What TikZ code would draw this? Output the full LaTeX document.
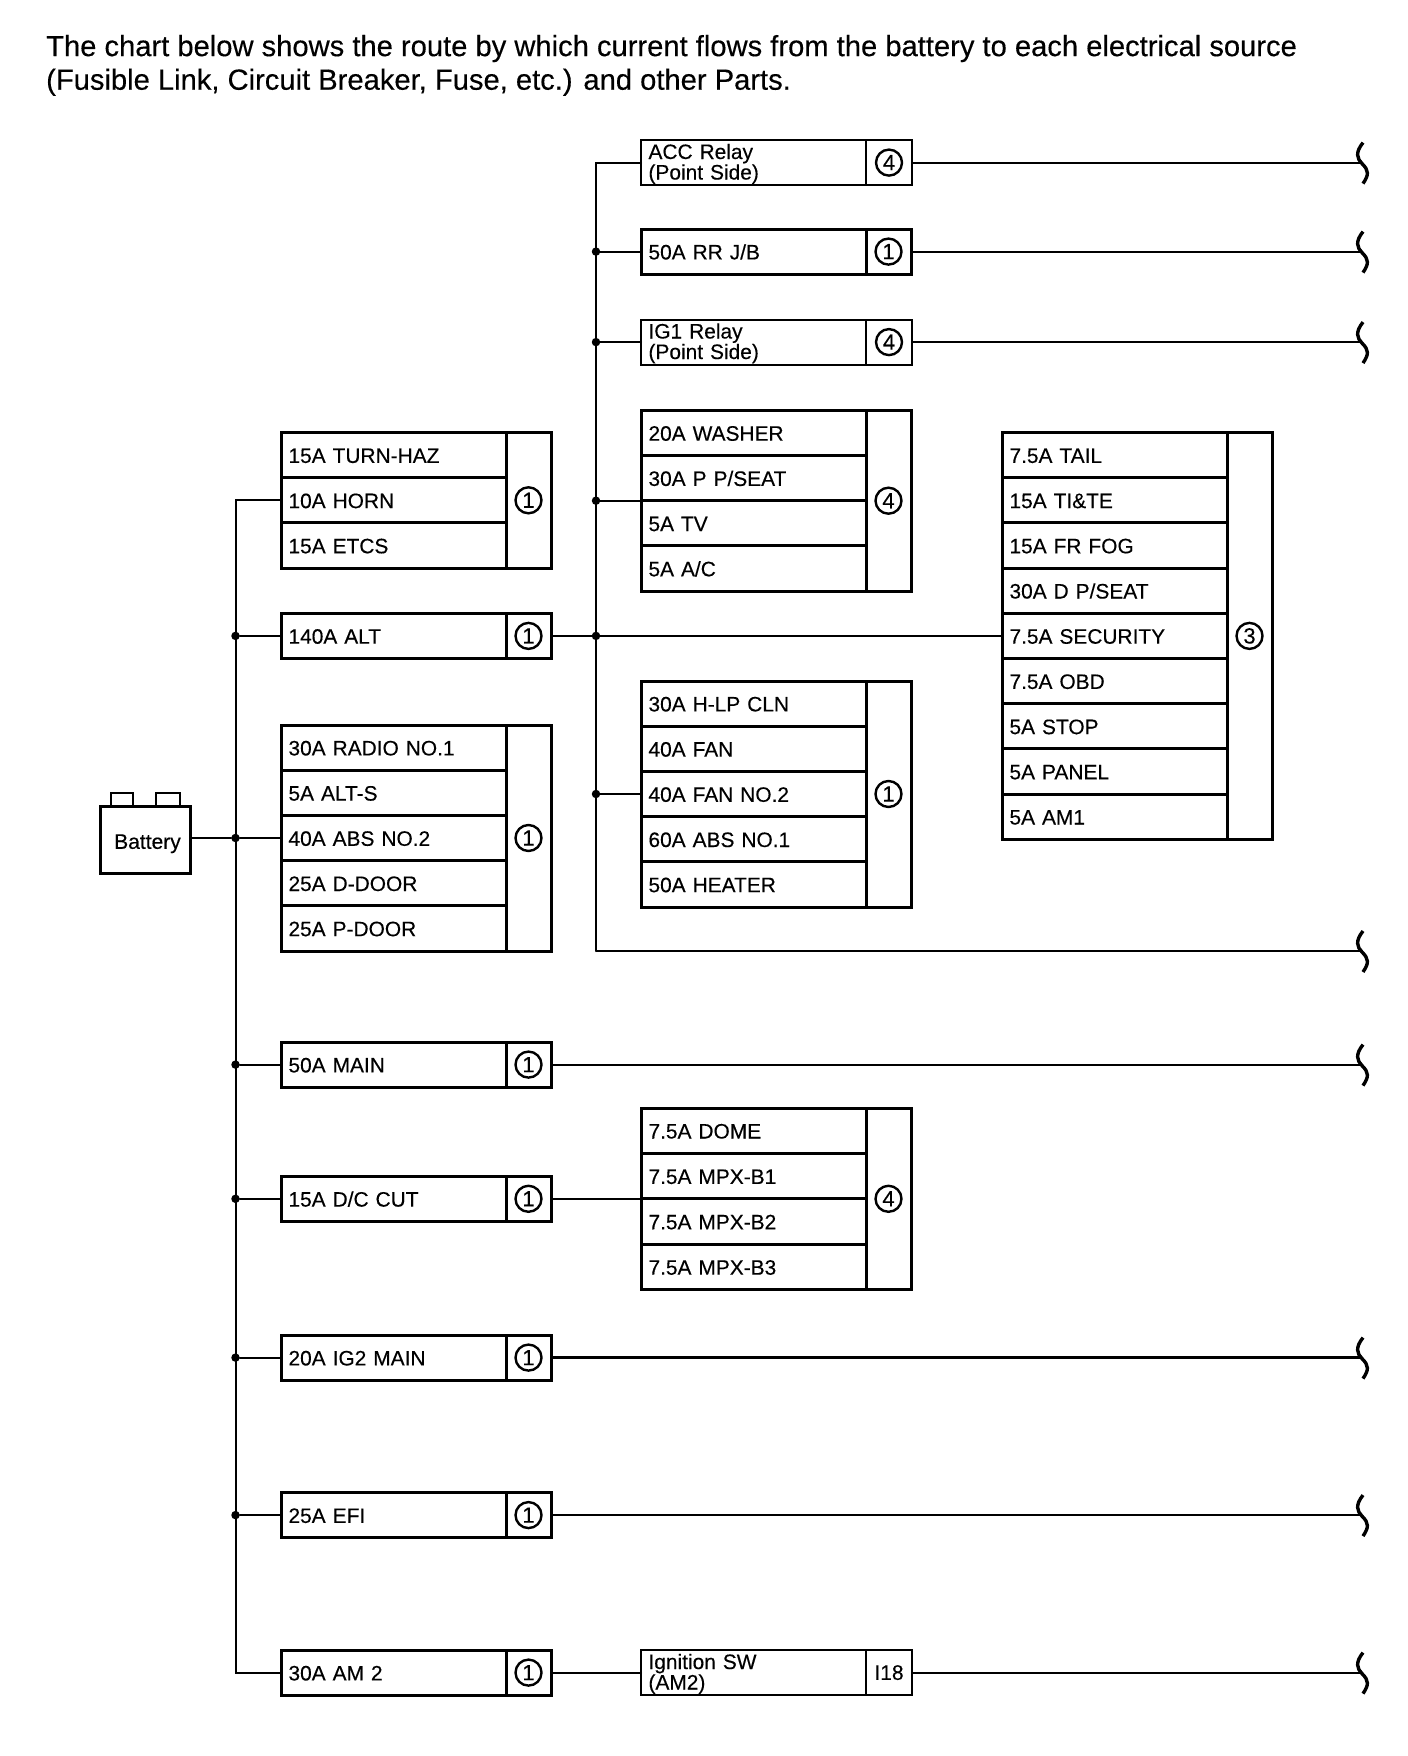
\documentclass[tikz,border=0pt]{standalone}
\usepackage{fontspec}
\setmainfont[FakeBold=0.3]{Liberation Sans}
\newcommand\twoline[2]{\raisebox{0pt}[36pt][2.2pt]{\vbox{\baselineskip=20.5pt\lineskiplimit=-30pt\hbox{#1}\hbox{#2}}}}
\tikzset{
  wire/.style={line width=2pt,line cap=round},
  heavywire/.style={line width=2.8pt},
  basecell/.style={draw,line width=3pt,rectangle,anchor=north west,outer sep=0pt,yshift=1pt,minimum width=225pt,minimum height=45.2pt,
     text width=210pt,inner xsep=7.5pt,inner ysep=0pt,align=left,font=\fontsize{20.9}{20}\selectfont},
  cell/.style={basecell,text height=19pt,text depth=3.4pt},
  thin cell/.style={basecell,line width=2pt},
  side/.style={draw,line width=3pt,rectangle,anchor=north west,outer sep=0pt,yshift=1pt,minimum width=45pt,inner sep=0pt},
  thin side/.style={side,line width=2pt,minimum width=46pt},
  ref/.style={draw,circle,line width=2.4pt,minimum size=26pt,inner sep=0pt,font=\fontsize{22}{22}\selectfont},
  jn/.style={circle,fill=black,inner sep=0pt,minimum size=8.5pt},
  cut/.pic={\draw[line width=3.4pt] (2,-20) .. controls (-6,-10) and (-4,-4) .. (1,1) .. controls (8,8) and (8,12) .. (2,21);}
}
\begin{document}
\begin{tikzpicture}[x=1pt,y=-1pt]
\useasboundingbox (0,0) rectangle (1408,1756);
\fill[white] (0,0) rectangle (1408,1756);
\node[anchor=north west,inner sep=0pt,align=left,font=\fontsize{29.15}{33.6}\selectfont] (title) at (46,34.8)
 {The chart below shows the route by which current flows from the battery to each electrical source\\(Fusible Link, Circuit Breaker, Fuse, etc.) and other Parts.};

% battery
\node[draw,line width=3pt,rectangle,outer sep=0pt,minimum width=90pt,minimum height=67pt,anchor=north west,inner sep=0pt,text height=21pt,text depth=2.4pt,font=\fontsize{21}{21}\selectfont] (bat) at (100,806) {\hspace*{5pt}Battery};
\draw[line width=2.6pt] (111,805) |- (133,793) -- (133,805);
\draw[line width=2.6pt] (156,805) |- (180,793) -- (180,805);

% left column
\node[cell] (a1) at (281,433.5) {15A TURN-HAZ};
\node[cell] (a2) at (281,478.7) {10A HORN};
\node[cell] (a3) at (281,523.9) {15A ETCS};
\node[side,minimum height=135.6pt] (as) at (506,433.5) {};
\node[ref] (ac) at (as.center) {1};

\node[cell] (alt) at (281,614.3) {140A ALT};
\node[side,minimum height=45.2pt] (alts) at (506,614.3) {};
\node[ref] (altc) at (alts.center) {1};

\node[cell] (b1) at (281,726) {30A RADIO NO.1};
\node[cell] (b2) at (281,771.2) {5A ALT-S};
\node[cell] (b3) at (281,816.4) {40A ABS NO.2};
\node[cell] (b4) at (281,861.6) {25A D-DOOR};
\node[cell] (b5) at (281,906.8) {25A P-DOOR};
\node[side,minimum height=226pt] (bs) at (506,726) {};
\node[ref] (bc) at (bs.center) {1};

\node[cell] (main) at (281,1043) {50A MAIN};
\node[side,minimum height=45.2pt] (mains) at (506,1043) {};
\node[ref] (mainc) at (mains.center) {1};

\node[cell] (dc) at (281,1177.2) {15A D/C CUT};
\node[side,minimum height=45.2pt] (dcs) at (506,1177.2) {};
\node[ref] (dcc) at (dcs.center) {1};

\node[cell] (ig) at (281,1336) {20A IG2 MAIN};
\node[side,minimum height=45.2pt] (igs) at (506,1336) {};
\node[ref] (igc) at (igs.center) {1};

\node[cell] (efi) at (281,1493.5) {25A EFI};
\node[side,minimum height=45.2pt] (efis) at (506,1493.5) {};
\node[ref] (efic) at (efis.center) {1};

\node[cell] (am) at (281,1651) {30A AM 2};
\node[side,minimum height=45.2pt] (ams) at (506,1651) {};
\node[ref] (amc) at (ams.center) {1};

% middle column
\node[thin cell] (acc) at (641,141) {\twoline{ACC Relay}{(Point Side)}};
\node[thin side,minimum height=45.2pt] (accs) at (866,141) {};
\node[ref] (accc) at (accs.center) {4};

\node[cell] (rr) at (641,230) {50A RR J/B};
\node[side,minimum height=45.2pt] (rrs) at (866,230) {};
\node[ref] (rrc) at (rrs.center) {1};

\node[thin cell] (ig1) at (641,320.5) {\twoline{IG1 Relay}{(Point Side)}};
\node[thin side,minimum height=45.2pt] (ig1s) at (866,320.5) {};
\node[ref] (ig1c) at (ig1s.center) {4};

\node[cell] (c1) at (641,411.3) {20A WASHER};
\node[cell] (c2) at (641,456.5) {30A P P/SEAT};
\node[cell] (c3) at (641,501.7) {5A TV};
\node[cell] (c4) at (641,546.9) {5A A/C};
\node[side,minimum height=180.8pt] (cs) at (866,411.3) {};
\node[ref] (cc) at (cs.center) {4};

\node[cell] (d1) at (641,682) {30A H-LP CLN};
\node[cell] (d2) at (641,727.2) {40A FAN};
\node[cell] (d3) at (641,772.4) {40A FAN NO.2};
\node[cell] (d4) at (641,817.6) {60A ABS NO.1};
\node[cell] (d5) at (641,862.8) {50A HEATER};
\node[side,minimum height=226pt] (ds) at (866,682) {};
\node[ref] (dc2) at (ds.center) {1};

\node[cell,minimum height=45.4pt] (e1) at (641,1109) {7.5A DOME};
\node[cell,minimum height=45.4pt] (e2) at (641,1154.4) {7.5A MPX-B1};
\node[cell,minimum height=45.4pt] (e3) at (641,1199.8) {7.5A MPX-B2};
\node[cell,minimum height=45.4pt] (e4) at (641,1245.2) {7.5A MPX-B3};
\node[side,minimum height=181.6pt] (es) at (866,1109) {};
\node[ref] (ec) at (es.center) {4};

\node[thin cell] (sw) at (641,1651) {\twoline{Ignition SW}{(AM2)}};
\node[thin side,minimum height=45.2pt] (sws) at (866,1651) {};
\node[font=\fontsize{21}{21}\selectfont] (swc) at (sws.center) {I18};

% right column
\node[cell] (f1) at (1002,433.5) {7.5A TAIL};
\node[cell] (f2) at (1002,478.7) {15A TI\&TE};
\node[cell] (f3) at (1002,523.9) {15A FR FOG};
\node[cell] (f4) at (1002,569.1) {30A D P/SEAT};
\node[cell] (f5) at (1002,614.3) {7.5A SECURITY};
\node[cell] (f6) at (1002,659.5) {7.5A OBD};
\node[cell] (f7) at (1002,704.7) {5A STOP};
\node[cell] (f8) at (1002,749.9) {5A PANEL};
\node[cell] (f9) at (1002,795.1) {5A AM1};
\node[side,minimum height=406.8pt] (fs) at (1227,433.5) {};
\node[ref] (fc) at (fs.center) {3};

% left bus
\coordinate (lb) at (235.5,0);
\coordinate (lbtop) at (lb |- a2.west);
\coordinate (lbend) at (lb |- am.west);
\draw[wire] (a2.west) -- (lbtop) -- (lbend) -- (am.west);
\foreach \n in {alt,b3,main,dc,ig,efi} {
  \node[jn] (j\n) at (lb |- \n.west) {};
  \draw[wire] (j\n) -- (\n.west);
}
\draw[wire] (bat.east |- b3.west) -- (jb3);

% middle bus
\coordinate (mb) at (596,0);
\coordinate (mbtop) at (mb |- acc.west);
\coordinate (mbend) at (mb |- b5.south);
\draw[wire] (acc.west) -- (mbtop) -- (mbend);
\node[jn] (jrr) at (mb |- rr.west) {};
\draw[wire] (jrr) -- (rr.west);
\node[jn] (jig1) at (mb |- ig1.west) {};
\draw[wire] (jig1) -- (ig1.west);
\coordinate (c23) at (c2.south west);
\node[jn] (jc) at (mb |- c23) {};
\draw[wire] (jc) -- (c23);
\node[jn] (jd) at (mb |- d3.west) {};
\draw[wire] (jd) -- (d3.west);
\node[jn] (jalt) at (mb |- alts.east) {};
\draw[wire] (alts.east) -- (jalt) -- (f5.west);

% outgoing wires
\coordinate (endx) at (1361,0);
\foreach \n in {accs,rrs,ig1s,sws,mains} {
  \coordinate (t\n) at (endx |- \n.east);
  \draw[wire] (\n.east) -- (t\n);
  \pic at (t\n) {cut};
}
\foreach \n in {igs} {
  \coordinate (t\n) at (endx |- \n.east);
  \draw[heavywire] (\n.east) -- (t\n);
  \pic at (t\n) {cut};
}
\coordinate (tefi) at (endx |- efis.east);
\draw[wire] (efis.east) -- (tefi);
\pic at (tefi) {cut};
\coordinate (tm) at (endx |- mbend);
\draw[heavywire] (mbend) -- (tm);
\pic at (tm) {cut};

\draw[wire] (dcs.east) -- (e2.south west);
\draw[wire] (ams.east) -- (sw.west);
\end{tikzpicture}
\end{document}
